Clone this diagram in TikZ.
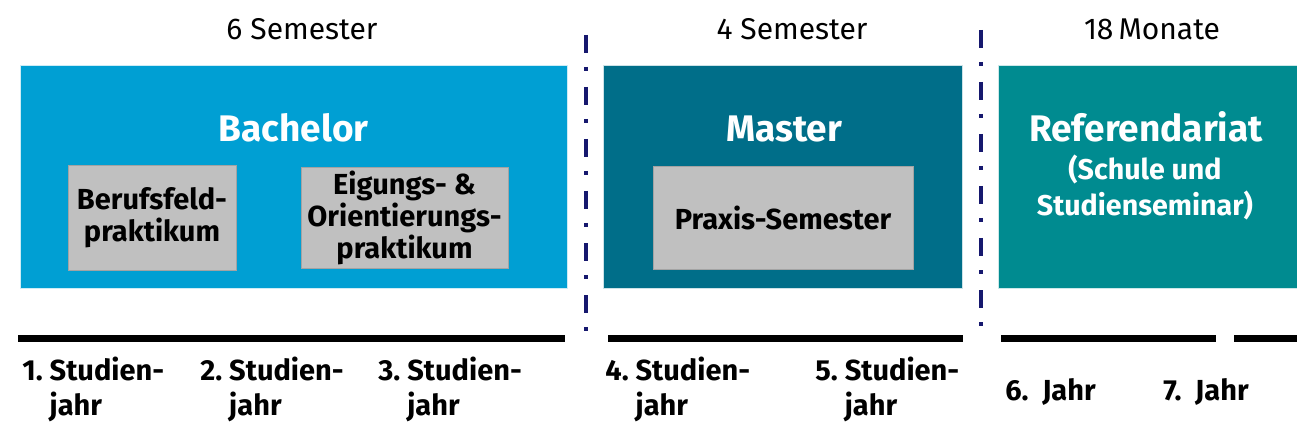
\documentclass[tikz,border=0pt]{standalone}
\usepackage{fontspec}
\setmainfont{Fira Sans}
\usetikzlibrary{positioning}
\definecolor{bachelorblue}{RGB}{0,159,211}
\definecolor{masterblue}{RGB}{0,110,137}
\definecolor{refteal}{RGB}{0,139,144}
\definecolor{practicegray}{RGB}{192,192,192}
\definecolor{dividerblue}{RGB}{22,24,110}

\begin{document}
\begin{tikzpicture}[x=0.5pt,y=-0.5pt,
  phase/.style={rectangle,inner sep=0pt,fill=#1,draw=white!80!#1,line width=0.4pt},
  practice/.style={rectangle,inner sep=0pt,fill=practicegray,draw=practicegray!85!black,
    line width=0.4pt,align=center,font=\bfseries\fontsize{14.5}{16}\selectfont},
  title/.style={text=white,anchor=base,inner sep=0pt,font=\bfseries\fontsize{18.5}{22}\selectfont},
  subtitle/.style={text=white,anchor=base,inner sep=0pt,align=center,font=\bfseries\fontsize{14.3}{17.5}\selectfont},
  span/.style={anchor=base,inner sep=0pt,font=\fontsize{15}{17}\selectfont},
  divider/.style={draw=dividerblue,line width=2.4pt,dash pattern=on 9pt off 7pt on 2pt off 8pt},
  yearbar/.style={line width=3.5pt},
  year/.style={anchor=base west,inner sep=0pt,align=left,font=\bfseries\fontsize{14.5}{17.5}\selectfont}]
  \useasboundingbox (0,0) rectangle (1297,444);

  \node[span] (sem6) at (302,40) {6 Semester};
  \node[span] (sem4) at (792,40) {4 Semester};
  \node[span] (mon18) at (1152,40) {18\,Monate};

  \node[phase=bachelorblue,minimum width=273.5pt,minimum height=111.5pt] (bachelor) at (293.5,176.5) {};
  \node[phase=masterblue,minimum width=179.5pt,minimum height=111.5pt] (master) at (782.5,176.5) {};
  \node[phase=refteal,minimum width=149.5pt,minimum height=111.5pt] (referendariat) at (1147.5,176.5) {};

  \node[title] (bachelortitle) at (293.5,142) {Bachelor};
  \node[title] (mastertitle) at (784,142) {Master};
  \node[title] (reftitle) at (1146,142) {Referendariat};
  \node[subtitle] (refsub) at (1145,215) {(Schule und\\Studienseminar)};

  \node[practice,minimum width=84pt,minimum height=52.5pt] (berufsfeld) at (152,217.5) {Berufsfeld-\\praktikum};
  \node[practice,minimum width=103.5pt,minimum height=50.5pt] (eignung) at (404.5,217.5)
    {Eigungs- \&\\Orientierungs-\\praktikum};
  \node[practice,minimum width=130pt,minimum height=51.5pt] (praxis) at (783,217.5) {Praxis-Semester};

  \coordinate (d1top) at (586,35);
  \coordinate (d1bot) at (586,342);
  \coordinate (d2top) at (981,30);
  \coordinate (d2bot) at (981,337);
  \draw[divider] (d1top) -- (d1bot);
  \draw[divider] (d2top) -- (d2bot);

  \coordinate (b1a) at (18,338.5);
  \coordinate (b1b) at (565,338.5);
  \coordinate (b2a) at (608,338.5);
  \coordinate (b2b) at (963,338.5);
  \coordinate (b3a) at (1001,338.5);
  \coordinate (b3b) at (1216,338.5);
  \coordinate (b4a) at (1234,338.5);
  \coordinate (b4b) at (1297,338.5);
  \draw[yearbar] (b1a) -- (b1b);
  \draw[yearbar] (b2a) -- (b2b);
  \draw[yearbar] (b3a) -- (b3b);
  \draw[yearbar] (b4a) -- (b4b);

  \node[year] (year1) at (22,415) {1.~Studien-\\\phantom{1.~}jahr};
  \node[year] (year2) at (200,415) {2.~Studien-\\\phantom{2.~}jahr};
  \node[year] (year3) at (378,415) {3.~Studien-\\\phantom{3.~}jahr};
  \node[year] (year4) at (605,415) {4.~Studien-\\\phantom{4.~}jahr};
  \node[year] (year5) at (815,415) {5.~Studien-\\\phantom{5.~}jahr};
  \node[year] (year6) at (1005,400) {6.~~Jahr};
  \node[year] (year7) at (1163,400) {7.~~Jahr};
\end{tikzpicture}
\end{document}
